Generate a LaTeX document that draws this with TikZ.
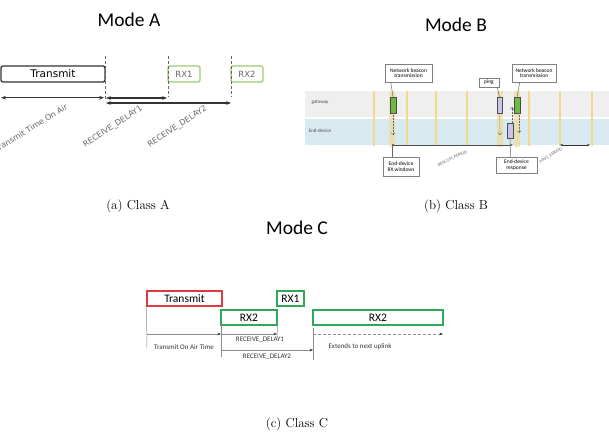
\documentclass[tikz,border=0pt]{standalone}
\usepackage{fontspec}
\usetikzlibrary{arrows.meta}
\newfontfamily\calfont{Carlito}
\newfontfamily\dvfont{DejaVu Sans}
\newcommand{\fsz}[1]{\fontsize{#1}{#1}\selectfont}
\definecolor{agreen}{HTML}{9ACD6A}
\definecolor{cgreen}{HTML}{2FA85A}
\definecolor{cred}{HTML}{E0393E}
\definecolor{bgreen}{HTML}{6DBB3C}
\definecolor{blav}{HTML}{C9C5EC}
\definecolor{byel}{HTML}{F3D98A}
\definecolor{gwgray}{HTML}{EFEFEF}
\definecolor{edblue}{HTML}{D8EAEF}

\begin{document}
\begin{tikzpicture}[x=1pt,y=-1pt,
    title/.style={font=\calfont\fsz{19.5}},
    capt/.style={font=\fsz{13}},
    txa/.style={draw=black!80,line width=1.3pt,rounded corners=2pt,minimum width=104pt,minimum height=16pt,inner sep=0pt,font=\dvfont\fsz{10.5}},
    rxa/.style={draw=agreen,line width=1.2pt,rounded corners=2pt,minimum width=32pt,minimum height=16pt,inner sep=0pt,text=black!60,font=\dvfont\fsz{8.5}},
    dla/.style={draw=black!60,densely dashed,line width=0.4pt},
    arra/.style={{Stealth[length=5pt]}-{Stealth[length=5pt]},line width=1.2pt,draw=black!80},
    laba/.style={sloped,midway,inner sep=0pt,text=black!60,font=\dvfont\fsz{8}},
    boxb/.style={draw=black!70,line width=0.5pt,minimum width=6pt,minimum height=16pt,inner sep=0pt},
    callb/.style={draw=black!50,fill=white,line width=0.5pt,inner sep=1pt,align=center,font=\calfont\fsz{5.5}},
    yelw/.style={byel,line width=6pt,opacity=0.6},
    yeln/.style={byel,line width=1.4pt},
    dotb/.style={densely dotted,draw=black!60,line width=0.5pt,-{Straight Barb[length=2pt]}},
    txc/.style={draw=cred,line width=1.2pt,minimum width=75pt,minimum height=15pt,inner sep=0pt,font=\calfont\fsz{11.5}},
    rxc/.style={draw=cgreen,line width=1.2pt,minimum height=15pt,inner sep=0pt,font=\calfont\fsz{11.5}},
    vlc/.style={draw=black!45,line width=0.5pt},
    arrc/.style={draw=black!45,line width=0.5pt,-{Stealth[length=3.5pt,black!80]}},
    labc/.style={text=black!80,font=\calfont\fsz{7}}]
    \useasboundingbox (0,0) rectangle (609,431);

    \node[title] (ta) at (129,20) {Mode A};
    \node[txa] (atx) at (53,74) {Transmit};
    \node[rxa] (arx1) at (184,74) {RX1};
    \node[rxa] (arx2) at (247,74) {RX2};
    \coordinate (a0t) at (105,56);
    \coordinate (a0b) at (105,100);
    \coordinate (a1t) at (168,56);
    \coordinate (a1b) at (168,97);
    \coordinate (a2t) at (231,56);
    \coordinate (a2b) at (231,97);
    \draw[dla] (a0t) -- (a0b);
    \draw[dla] (a1t) -- (a1b);
    \draw[dla] (a2t) -- (a2b);
    \coordinate (aL) at (1,97.7);
    \coordinate (aM) at (104,97.7);
    \coordinate (aN) at (106,98);
    \coordinate (aR1) at (167,98);
    \coordinate (aN2) at (106,103);
    \coordinate (aR2) at (231,103);
    \draw[arra] (aL) -- (aM);
    \draw[arra] (aN) -- (aR1);
    \draw[arra] (aN2) -- (aR2);
    \coordinate (t0a) at (-6,151);
    \coordinate (t0b) at (68,105);
    \coordinate (t1a) at (83,147);
    \coordinate (t1b) at (143,107);
    \coordinate (t2a) at (147,147);
    \coordinate (t2b) at (208,107);
    \path (t0a) -- node[laba] (lToA) {Transmit Time On Air} (t0b);
    \path (t1a) -- node[laba] (lrd1) {RECEIVE\_DELAY1} (t1b);
    \path (t2a) -- node[laba] (lrd2) {RECEIVE\_DELAY2} (t2b);
    \node[capt] (ca) at (138,206) {(a) Class A};

    \node[title] (tb) at (456,25) {Mode B};
    \fill[gwgray] (305,91) rectangle (609,117);
    \fill[edblue] (305,119) rectangle (609,145);
    \foreach \x in {374,407,436,467,529,560,592}
      \draw[yeln] (\x,91) -- (\x,146);
    \foreach \x in {392,500,517}
      \draw[yelw] (\x,91) -- (\x,147);
    \node[font=\calfont\fsz{5},text=black!70] (lgw) at (320,102) {gateway};
    \node[font=\calfont\fsz{5},text=black!70] (led) at (320,131) {End-device};
    \node[boxb,fill=bgreen] (gb1) at (393,105) {};
    \node[boxb,fill=blav,minimum width=5pt] (pg) at (499.5,105) {};
    \node[boxb,fill=bgreen] (gb2) at (517,105) {};
    \node[boxb,fill=blav,minimum width=6pt,minimum height=15pt] (rsp) at (510,130.5) {};
    \coordinate (d1) at (393,135);
    \coordinate (d2) at (500,135);
    \coordinate (d3) at (512,107);
    \coordinate (d4) at (519,133);
    \draw[dotb] (gb1.south) -- (d1);
    \draw[dotb] (pg.south) -- (d2);
    \draw[dotb] ([xshift=2pt]rsp.north) -- (d3);
    \draw[dotb] ([xshift=2pt]gb2.south) -- (d4);
    \node[callb,minimum width=47pt,minimum height=18pt] (nb1) at (408.5,73) {Network beacon\\transmission};
    \node[callb,minimum width=20pt,minimum height=9pt] (cpg) at (489,82.5) {ping};
    \node[callb,minimum width=44pt,minimum height=18pt] (nb2) at (534,73) {Network beacon\\transmission};
    \node[callb,minimum width=36pt,minimum height=19pt] (crx) at (401,166.5) {End-device\\RX windows};
    \node[callb,minimum width=41pt,minimum height=16pt] (crs) at (516.5,165) {End-device\\response};
    \draw[black!60,line width=0.5pt] ([xshift=6pt]nb1.south west) -- (gb1.north);
    \draw[black!60,line width=0.5pt] ([xshift=-2pt]cpg.south east) -- (pg.north);
    \draw[black!60,line width=0.5pt] ([xshift=8pt]nb2.south west) -- (gb2.north);
    \coordinate (bp0) at (392,145);
    \coordinate (bp1) at (513,145);
    \draw[black!70,line width=0.9pt,{Circle[length=2pt]}-{Stealth[length=3pt]}] (bp0) -- (bp1);
    \draw[black!60,line width=0.5pt] ([xshift=-9pt]crx.north) -- (bp0);
    \draw[black!60,line width=0.5pt] ([xshift=-6pt]crs.north) -- (rsp.south);
    \coordinate (pp0) at (560,145);
    \coordinate (pp1) at (590,145);
    \draw[black!80,line width=0.6pt,{Stealth[length=3pt]}-{Stealth[length=3pt]}] (pp0) -- (pp1);
    \coordinate (s0a) at (438,165);
    \coordinate (s0b) at (467,152);
    \coordinate (s1a) at (539,163);
    \coordinate (s1b) at (563,148);
    \path (s0a) -- node[sloped,midway,inner sep=0pt,text=black!60,font=\calfont\fsz{4.5}] (lbp) {BEACON\_PERIOD} (s0b);
    \path (s1a) -- node[sloped,midway,inner sep=0pt,text=black!60,font=\calfont\fsz{4.5}] (lpp) {PING\_PERIOD} (s1b);
    \node[capt] (cb) at (456,206) {(b) Class B};

    \node[title] (tc) at (297,228) {Mode C};
    \node[txc] (ctx) at (184.5,298.5) {Transmit};
    \node[rxc,minimum width=27pt] (crx1) at (290.5,298.5) {RX1};
    \node[rxc,minimum width=56pt] (crx2a) at (249,317.5) {RX2};
    \node[rxc,minimum width=130pt] (crx2b) at (378,317.5) {RX2};
    \coordinate (c0b) at (147,348);
    \coordinate (c1t) at (221,325);
    \coordinate (c1b) at (221,357);
    \coordinate (c2b) at (277,337);
    \coordinate (c3t) at (313,328);
    \coordinate (c3b) at (313,360);
    \draw[vlc] (ctx.south west) -- (c0b);
    \draw[vlc] (c1t) -- (c1b);
    \draw[vlc] (crx2a.south east) -- (c2b);
    \draw[vlc] (c3t) -- (c3b);
    \coordinate (h0) at (147,334);
    \coordinate (h1) at (221,334);
    \coordinate (h2) at (277,334);
    \coordinate (h3) at (313,334);
    \coordinate (h4) at (443,334);
    \coordinate (g1) at (221,350);
    \coordinate (g3) at (313,350);
    \draw[arrc] (h0) -- (h1);
    \draw[arrc] (h1) -- (h2);
    \draw[arrc] (g1) -- (g3);
    \draw[arrc,densely dashed] (h3) -- (h4);
    \node[labc] (lcta) at (184,347) {Transmit On Air Time};
    \node[labc] (lcd1) at (260,340) {RECEIVE\_DELAY1};
    \node[labc] (lcd2) at (267,357) {RECEIVE\_DELAY2};
    \node[labc] (lcex) at (360,347) {Extends to next uplink};
    \node[capt] (cc) at (297,424) {(c) Class C};
\end{tikzpicture}
\end{document}
